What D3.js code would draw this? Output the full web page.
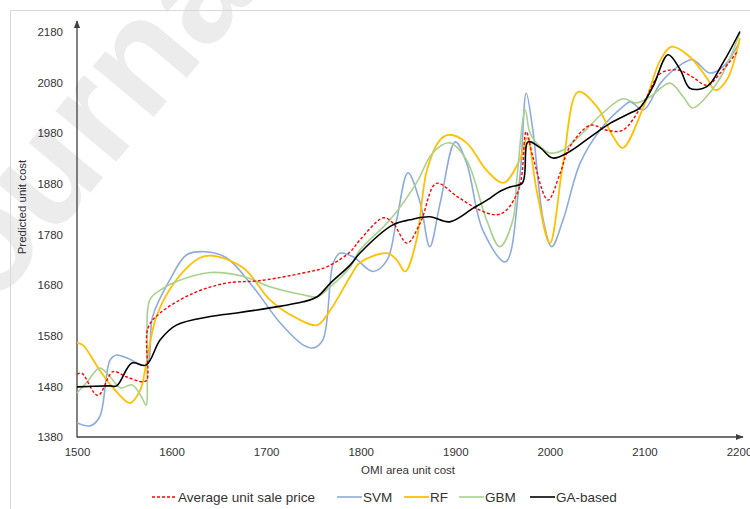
<!DOCTYPE html>
<html>
<head>
<meta charset="utf-8">
<script src="https://cdn.jsdelivr.net/npm/d3@7"></script>
<style>
  html, body { margin: 0; padding: 0; background: #fff; }
  svg { display: block; }
</style>
</head>
<body>
<svg id="chart" width="750" height="509"></svg>
<script>
// ---------------- data ----------------
const xTicks = [1500, 1600, 1700, 1800, 1900, 2000, 2100, 2200];
const yTicks = [1380, 1480, 1580, 1680, 1780, 1880, 1980, 2080, 2180];

const avgX = [1500, 1505, 1522, 1538, 1552, 1570, 1574, 1575, 1588, 1623, 1658, 1694, 1739, 1764, 1789, 1799, 1824, 1834, 1849, 1863, 1880, 1902, 1926, 1944, 1954, 1968, 1975, 1982, 1998, 2011, 2021, 2043, 2060, 2077, 2099, 2117, 2135, 2151, 2166, 2183, 2198];
const avgY = [1504, 1506, 1462, 1509, 1499, 1489, 1493, 1595, 1625, 1664, 1684, 1689, 1704, 1716, 1746, 1769, 1813, 1803, 1763, 1803, 1881, 1855, 1828, 1819, 1828, 1874, 1983, 1934, 1848, 1902, 1953, 1996, 1986, 1986, 2040, 2098, 2105, 2091, 2075, 2105, 2141];

const svmX = [1500, 1514, 1524, 1535, 1542, 1553, 1573, 1580, 1598, 1616, 1635, 1658, 1686, 1715, 1739, 1750, 1760, 1771, 1778, 1792, 1813, 1828, 1838, 1850, 1863, 1873, 1884, 1900, 1912, 1929, 1953, 1968, 1975, 1982, 1993, 2002, 2014, 2032, 2053, 2077, 2085, 2099, 2117, 2135, 2151, 2169, 2183, 2200];
const svmY = [1408, 1402, 1420, 1532, 1542, 1536, 1522, 1618, 1690, 1740, 1746, 1734, 1677, 1605, 1562, 1556, 1572, 1724, 1743, 1736, 1707, 1730, 1809, 1902, 1842, 1756, 1842, 1963, 1921, 1789, 1726, 1888, 2059, 1986, 1809, 1756, 1809, 1921, 1986, 2032, 2042, 2026, 2079, 2111, 2125, 2099, 2111, 2158];

const rfX = [1500, 1506, 1524, 1540, 1556, 1567, 1573, 1584, 1605, 1630, 1644, 1676, 1704, 1732, 1754, 1768, 1789, 1799, 1828, 1838, 1847, 1859, 1870, 1884, 1894, 1912, 1933, 1951, 1968, 1976, 1986, 2000, 2014, 2030, 2050, 2067, 2077, 2099, 2117, 2129, 2148, 2166, 2175, 2187, 2201];
const rfY = [1566, 1562, 1512, 1473, 1447, 1473, 1522, 1618, 1690, 1734, 1738, 1714, 1651, 1615, 1601, 1631, 1697, 1724, 1743, 1730, 1707, 1769, 1907, 1967, 1977, 1961, 1907, 1882, 1927, 1971, 1868, 1763, 1921, 2062, 2032, 1973, 1951, 2032, 2125, 2151, 2131, 2089, 2065, 2085, 2168];

const gbmX = [1500, 1510, 1524, 1535, 1546, 1558, 1568, 1573, 1574, 1577, 1588, 1605, 1641, 1676, 1704, 1739, 1754, 1768, 1789, 1799, 1831, 1859, 1876, 1894, 1912, 1933, 1947, 1961, 1965, 1974, 1979, 1990, 2000, 2014, 2035, 2056, 2077, 2092, 2106, 2127, 2141, 2151, 2169, 2183, 2201];
const gbmY = [1467, 1487, 1516, 1499, 1477, 1483, 1460, 1443, 1552, 1651, 1670, 1687, 1705, 1697, 1677, 1661, 1657, 1677, 1716, 1749, 1809, 1882, 1941, 1961, 1927, 1809, 1756, 1809, 1888, 2026, 1981, 1953, 1941, 1947, 1981, 2020, 2048, 2040, 2052, 2079, 2052, 2030, 2060, 2099, 2178];

const gaX = [1500, 1535, 1542, 1558, 1573, 1588, 1605, 1641, 1669, 1704, 1739, 1754, 1768, 1789, 1799, 1834, 1852, 1873, 1894, 1919, 1937, 1947, 1958, 1971, 1977, 1990, 2003, 2021, 2043, 2064, 2085, 2095, 2109, 2125, 2138, 2148, 2166, 2183, 2201];
const gaY = [1479, 1481, 1481, 1526, 1522, 1572, 1601, 1618, 1625, 1635, 1647, 1657, 1684, 1720, 1743, 1799, 1809, 1815, 1805, 1832, 1852, 1865, 1874, 1882, 1963, 1951, 1931, 1944, 1973, 2000, 2020, 2030, 2072, 2135, 2105, 2069, 2072, 2119, 2181];

const seriesNames = ["Average unit sale price", "SVM", "RF", "GBM", "GA-based"];
// ------------------------------------------------------------------

const series = [
  { name: seriesNames[0], xs: avgX, ys: avgY, color: "#FF0000", width: 1.4, dash: "3,2" },
  { name: seriesNames[1], xs: svmX, ys: svmY, color: "#8FAADC", width: 1.6, dash: null },
  { name: seriesNames[2], xs: rfX,  ys: rfY,  color: "#FFC000", width: 1.8, dash: null },
  { name: seriesNames[3], xs: gbmX, ys: gbmY, color: "#A9D18E", width: 1.6, dash: null },
  { name: seriesNames[4], xs: gaX,  ys: gaY,  color: "#000000", width: 1.6, dash: null }
];

const svg = d3.select("#chart");
const W = 750, H = 509;

// watermark
svg.append("text")
  .attr("transform", "translate(-62,374) rotate(-50)")
  .attr("font-family", "Liberation Sans, Arial, sans-serif")
  .attr("font-size", 150)
  .attr("font-weight", "bold")
  .attr("fill", "#ececec")
  .text("Journal Pre-proof");

// chart frame
svg.append("path")
  .attr("d", `M10.5,${H} V10.5 H${W}`)
  .attr("fill", "none")
  .attr("stroke", "#d9d9d9")
  .attr("stroke-width", 1);

const x = d3.scaleLinear().domain([1500, 2200]).range([77, 739]);
const y = d3.scaleLinear().domain([1380, 2180]).range([437, 32]);

const font = "Liberation Sans, Arial, sans-serif";
const axisColor = "#404040";

const defs = svg.append("defs");
defs.append("marker")
  .attr("id", "arrow")
  .attr("viewBox", "0 0 10 10")
  .attr("refX", 9).attr("refY", 5)
  .attr("markerWidth", 6).attr("markerHeight", 6)
  .attr("orient", "auto")
  .append("path").attr("d", "M0,1 L10,5 L0,9 z").attr("fill", axisColor);

// y axis labels
const yAxis = d3.axisLeft(y).tickValues(yTicks).tickSize(0).tickPadding(14).tickFormat(d3.format("d"));
const gy = svg.append("g").attr("transform", `translate(${x(1500)},0)`).call(yAxis);
gy.select(".domain").remove();
gy.selectAll("text").attr("font-family", font).attr("font-size", 11.5).attr("fill", "#333");

// x axis labels
const xAxis = d3.axisBottom(x).tickValues(xTicks).tickSize(0).tickPadding(11).tickFormat(d3.format("d"));
const gx = svg.append("g").attr("transform", `translate(0,${y(1380)})`).call(xAxis);
gx.select(".domain").remove();
gx.selectAll("text").attr("font-family", font).attr("font-size", 11.5).attr("fill", "#333");

svg.append("line")
  .attr("x1", x(1500)).attr("y1", y(1380) + 0.5)
  .attr("x2", x(1500)).attr("y2", 21)
  .attr("stroke", axisColor).attr("stroke-width", 1.3)
  .attr("marker-end", "url(#arrow)");
svg.append("line")
  .attr("x1", x(1500)).attr("y1", y(1380))
  .attr("x2", 743).attr("y2", y(1380))
  .attr("stroke", axisColor).attr("stroke-width", 1.3)
  .attr("marker-end", "url(#arrow)");

// axis titles
svg.append("text")
  .attr("x", 408).attr("y", 474)
  .attr("text-anchor", "middle")
  .attr("font-family", font).attr("font-size", 11.5).attr("fill", "#333")
  .text("OMI area unit cost");
svg.append("text")
  .attr("transform", "translate(26,207) rotate(-90)")
  .attr("text-anchor", "middle")
  .attr("font-family", font).attr("font-size", 11.5).attr("fill", "#333")
  .text("Predicted unit cost");

// lines
const line = d3.line()
  .x(d => x(d[0]))
  .y(d => y(d[1]))
  .curve(d3.curveCatmullRom.alpha(0.5));

const drawOrder = [1, 2, 3, 0, 4];
drawOrder.forEach(i => {
  const s = series[i];
  const pts = s.xs.map((v, k) => [v, s.ys[k]]);
  svg.append("path")
    .datum(pts)
    .attr("d", line)
    .attr("fill", "none")
    .attr("stroke", s.color)
    .attr("stroke-width", s.width)
    .attr("stroke-dasharray", s.dash)
    .attr("stroke-linejoin", "round");
});

// legend
const legendY = 497;
const legendStarts = [152, 337, 404, 459, 530];
series.forEach((s, i) => {
  const g = svg.append("g").attr("transform", `translate(${legendStarts[i]},${legendY})`);
  g.append("line")
    .attr("x1", 0).attr("x2", 25).attr("y1", 0).attr("y2", 0)
    .attr("stroke", s.color).attr("stroke-width", s.width)
    .attr("stroke-dasharray", s.dash);
  g.append("text")
    .attr("x", 26).attr("y", 5)
    .attr("font-family", font).attr("font-size", 13.5).attr("fill", "#333")
    .text(s.name);
});
</script>
</body>
</html>
